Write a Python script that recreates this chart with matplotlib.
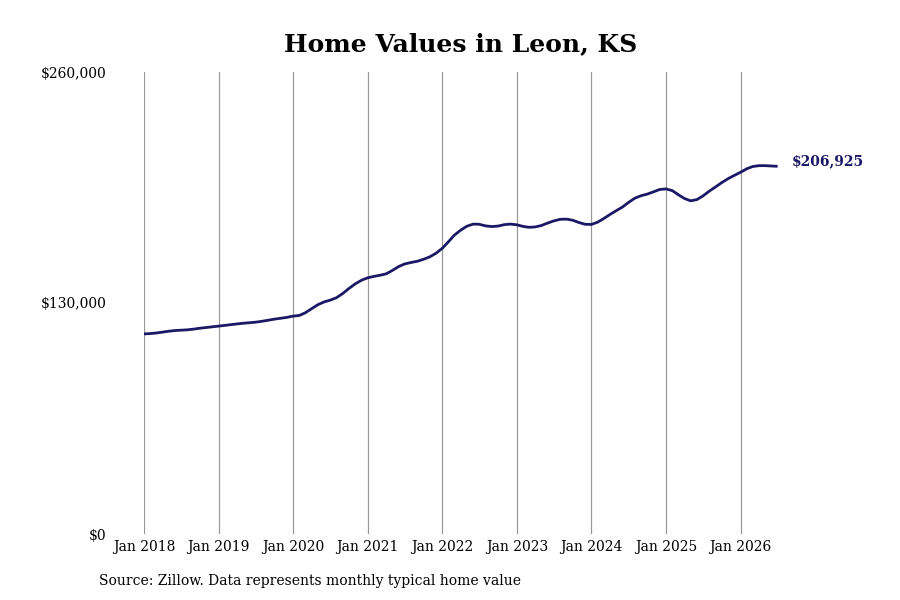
import matplotlib
matplotlib.use("Agg")
import matplotlib.pyplot as plt
import pandas as pd

dates = pd.date_range("2018-01-01", periods=103, freq="MS")
values_k = [
    # 2018
    112.6, 112.8, 113.1, 113.6, 114.1, 114.5, 114.7, 114.9, 115.3, 115.8, 116.2, 116.6,
    # 2019
    117.0, 117.4, 117.8, 118.2, 118.6, 118.9, 119.2, 119.7, 120.3, 120.9, 121.4, 121.9,
    # 2020
    122.6, 123.0, 124.5, 126.8, 129.0, 130.6, 131.6, 133.0, 135.4, 138.2, 140.8, 142.8,
    # 2021
    144.2, 145.0, 145.6, 146.4, 148.3, 150.5, 152.0, 152.8, 153.5, 154.6, 156.0, 158.0,
    # 2022
    160.8, 164.6, 168.2, 171.0, 173.2, 174.4, 174.3, 173.4, 173.0, 173.3, 174.1, 174.4,
    # 2023
    174.0, 173.1, 172.6, 172.8, 173.6, 175.0, 176.2, 177.1, 177.2, 176.6, 175.3, 174.3,
    # 2024
    174.2, 175.5, 177.5, 179.8, 181.9, 184.0, 186.6, 189.0, 190.4, 191.3, 192.6, 193.9,
    # 2025
    194.2, 193.2, 191.0, 188.8, 187.5, 188.2, 190.3, 193.0, 195.4, 197.8, 200.0, 201.8,
    # 2026
    203.6, 205.6, 206.8, 207.3, 207.3, 207.1, 206.925,
]
values = [v * 1000 for v in values_k]
title = "Home Values in Leon, KS"
source = "Source: Zillow. Data represents monthly typical home value"
yticks = [0, 130000, 260000]
ytick_labels = ["$0", "$130,000", "$260,000"]
xtick_years = list(range(2018, 2027))

plt.rcParams["font.family"] = ["DejaVu Serif"]
fig = plt.figure(figsize=(9, 6), dpi=100)
ax = fig.add_axes([0.16, 0.11, 0.704, 0.77])

color = "#1b1866"
ax.plot(dates, values, color=color, lw=2.0, solid_capstyle="butt")
ax.set_ylim(0, 260000)
ax.set_xlim(dates[0], dates[-1])

ax.set_yticks(yticks)
ax.set_yticklabels(ytick_labels)
xt = [pd.Timestamp(f"{y}-01-01") for y in xtick_years]
ax.set_xticks(xt)
ax.set_xticklabels([f"Jan {y}" for y in xtick_years])
ax.tick_params(axis="both", length=0, labelsize=10, colors="black")
ax.tick_params(axis="y", pad=27)
ax.tick_params(axis="x", pad=4)
ax.grid(axis="x", color="#999999", lw=0.9)
ax.grid(axis="y", visible=False)
for s in ax.spines.values():
    s.set_visible(False)

ax.annotate(f"${values[-1]:,.0f}", xy=(dates[-1], values[-1]), xytext=(10, 4),
            textcoords="offset points", ha="left", va="center",
            fontsize=10, fontweight="bold", color=color)

fig.text(0.512, 0.927, title, ha="center", va="center", fontsize=18, fontweight="bold")
fig.text(0.11, 0.031, source, ha="left", va="center", fontsize=10)

fig.savefig("out.png", dpi=100)
